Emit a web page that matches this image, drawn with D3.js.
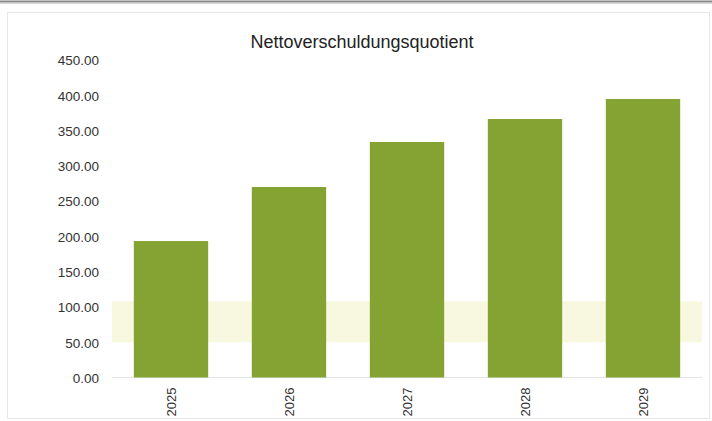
<!DOCTYPE html>
<html>
<head>
<meta charset="utf-8">
<script src="https://cdn.jsdelivr.net/npm/d3@7"></script>
<style>
  html, body { margin: 0; padding: 0; background: #ffffff; }
  svg { display: block; }
  text { font-family: "Liberation Sans", Arial, sans-serif; }
</style>
</head>
<body>
<svg id="chart" width="712" height="421"></svg>
<script>
// Net debt ratio per planning year
const years = ["2025", "2026", "2027", "2028", "2029"];
const quotient = [193.4, 270.0, 333.8, 366.4, 394.7];
const yTicks = [0, 50, 100, 150, 200, 250, 300, 350, 400, 450];
// target corridor shaded behind the bars
const targetRange = [50, 108];
const chartTitle = "Nettoverschuldungsquotient";

const svg = d3.select("#chart");
const W = 712, H = 421;
const plot = { left: 112, right: 702, top: 60, bottom: 377.5 };

// page chrome: top rule and light frame
svg.append("rect").attr("x", 0).attr("y", 0).attr("width", W).attr("height", 4).attr("fill", "#d6d6d6");
svg.append("line").attr("x1", 0).attr("x2", W).attr("y1", 1.5).attr("y2", 1.5)
  .attr("stroke", "#8a8a8a").attr("stroke-width", 1.5);
svg.append("rect").attr("x", 7.5).attr("y", 12.5).attr("width", 702).attr("height", 406)
  .attr("fill", "none").attr("stroke", "#e6e6e6").attr("stroke-width", 1);

const x = d3.scaleBand()
  .domain(years)
  .range([plot.left, plot.right])
  .paddingInner(0.37)
  .paddingOuter(0.185);

const y = d3.scaleLinear()
  .domain([0, 450])
  .range([plot.bottom, plot.top]);

// target corridor
svg.append("rect")
  .attr("x", plot.left)
  .attr("width", plot.right - plot.left)
  .attr("y", y(targetRange[1]))
  .attr("height", y(targetRange[0]) - y(targetRange[1]))
  .attr("fill", "#f7f8df");

// baseline
svg.append("line")
  .attr("x1", plot.left).attr("x2", plot.right)
  .attr("y1", y(0)).attr("y2", y(0))
  .attr("stroke", "#e2e4e8").attr("stroke-width", 1);

// bars
svg.append("g").selectAll("rect")
  .data(years.map((yr, i) => ({ yr, v: quotient[i] })))
  .join("rect")
  .attr("x", d => x(d.yr))
  .attr("width", x.bandwidth())
  .attr("y", d => y(d.v))
  .attr("height", d => y(0) - y(d.v))
  .attr("fill", "#85a333");

// y axis labels
const yAxis = d3.axisLeft(y)
  .tickValues(yTicks)
  .tickFormat(d3.format(".2f"))
  .tickSize(0)
  .tickPadding(0);
const gy = svg.append("g")
  .attr("transform", `translate(99,0)`)
  .call(yAxis);
gy.select(".domain").remove();
gy.selectAll("text")
  .attr("fill", "#333333")
  .style("font-size", "13.5px")
  .style("font-family", "'Liberation Sans', Arial, sans-serif")
  .attr("dy", "0.36em");

// x axis labels, rotated
const xAxis = d3.axisBottom(x).tickSize(0).tickPadding(0);
const gx = svg.append("g")
  .attr("transform", `translate(0,${y(0)})`)
  .call(xAxis);
gx.select(".domain").remove();
gx.selectAll("text")
  .attr("fill", "#333333")
  .style("font-size", "13px")
  .style("font-family", "'Liberation Sans', Arial, sans-serif")
  .attr("text-anchor", "end")
  .attr("transform", "rotate(-90)")
  .attr("x", -10)
  .attr("y", 0)
  .attr("dy", "0.36em");

// title
svg.append("text")
  .attr("x", 362)
  .attr("y", 48)
  .attr("text-anchor", "middle")
  .attr("fill", "#222222")
  .style("font-size", "18px")
  .text(chartTitle);
</script>
</body>
</html>
